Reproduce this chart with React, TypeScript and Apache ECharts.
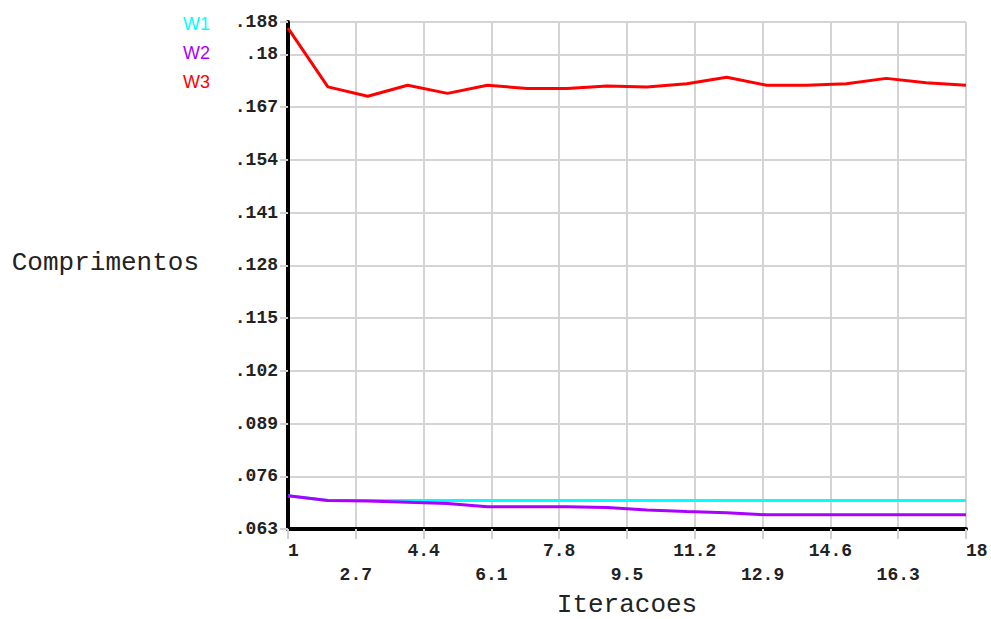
import React, { useEffect, useRef } from "react";
import * as echarts from "echarts";

const iterations = [1, 2, 3, 4, 5, 6, 7, 8, 9, 10, 11, 12, 13, 14, 15, 16, 17, 18];
const seriesNames = ["W1", "W2", "W3"];
const seriesColors = ["#00FFFF", "#AA00FF", "#FF0000"];
const w1 = [0.0712, 0.07, 0.07, 0.07, 0.07, 0.07, 0.07, 0.07, 0.07, 0.07, 0.07, 0.07, 0.07, 0.07, 0.07, 0.07, 0.07, 0.07];
const w2 = [0.0712, 0.07, 0.0699, 0.0696, 0.0693, 0.0685, 0.0685, 0.0685, 0.0683, 0.0677, 0.0673, 0.067, 0.0665, 0.0665, 0.0665, 0.0665, 0.0665, 0.0665];
const w3 = [0.1865, 0.172, 0.1697, 0.1724, 0.1704, 0.1724, 0.1716, 0.1716, 0.1722, 0.172, 0.1728, 0.1744, 0.1724, 0.1724, 0.1728, 0.1741, 0.173, 0.1724];
const yMin = 0.063;
const yMax = 0.188;
const yStep = 0.013;
const xMin = 1;
const xMax = 18;
const xStep = 1.7;

const fmtY = (v: number) => {
  const s = String(parseFloat(v.toFixed(3)));
  return s.replace(/^0\./, ".");
};
const fmtX = (v: number) => String(Math.round(v * 10) / 10);

export default function App() {
  const ref = useRef<HTMLDivElement>(null);
  useEffect(() => {
    if (!ref.current) return;
    const chart = echarts.init(ref.current, null, { renderer: "svg" });
    const all = [w1, w2, w3];
    chart.setOption({
      animation: false,
      backgroundColor: "#ffffff",
      legend: {
        orient: "vertical",
        left: 173,
        top: 10,
        icon: "none",
        itemWidth: 0,
        itemHeight: 18,
        itemGap: 11,
        selectedMode: false,
        data: seriesNames.map((n, i) => ({
          name: n,
          textStyle: { color: seriesColors[i] },
        })),
        textStyle: { fontFamily: "Liberation Sans", fontSize: 18 },
      },
      grid: {
        left: 288,
        right: 25,
        top: 22,
        bottom: 90,
        containLabel: false,
        outerBoundsMode: "none",
      },
      xAxis: {
        type: "value",
        min: xMin,
        max: xMax,
        interval: xStep,
        name: "Iteracoes",
        nameLocation: "middle",
        nameGap: 63,
        nameTextStyle: { fontFamily: "Liberation Mono", fontSize: 26, color: "#222" },
        axisLine: { show: true, onZero: false, lineStyle: { color: "#000", width: 4 } },
        axisTick: { show: true, length: 10, lineStyle: { color: "#d0d0d0", width: 2 } },
        axisLabel: {
          fontFamily: "Liberation Mono",
          fontWeight: "bold",
          fontSize: 18,
          color: "#222",
          margin: 10,
          lineHeight: 24,
          alignMinLabel: "left",
          alignMaxLabel: "left",
          formatter: (v: number, i: number) => (i % 2 ? "\n" + fmtX(v) : fmtX(v)),
        },
        splitLine: { show: true, lineStyle: { color: "#d4d4d4", width: 2 } },
      },
      yAxis: {
        type: "value",
        min: yMin,
        max: yMax,
        interval: yStep,
        name: "Comprimentos",
        nameLocation: "middle",
        nameRotate: 0,
        nameGap: 89,
        nameTextStyle: {
          fontFamily: "Liberation Mono",
          fontSize: 26,
          color: "#222",
          verticalAlign: "bottom",
        },
        axisLine: { show: true, onZero: false, lineStyle: { color: "#000", width: 4 } },
        axisTick: { show: true, length: 8, lineStyle: { color: "#d0d0d0", width: 2 } },
        axisLabel: {
          fontFamily: "Liberation Mono",
          fontWeight: "bold",
          fontSize: 18,
          color: "#222",
          margin: 10,
          padding: [0, 0, 6, 0],
          formatter: (v: number) => fmtY(v),
        },
        splitLine: { show: true, lineStyle: { color: "#d4d4d4", width: 2 } },
      },
      series: seriesNames.map((n, si) => ({
        name: n,
        type: "line",
        showSymbol: false,
        symbol: "none",
        color: seriesColors[si],
        lineStyle: { color: seriesColors[si], width: 3 },
        data: iterations.map((it, i) => [it, all[si][i]]),
      })),
    });
    return () => chart.dispose();
  }, []);
  return (
    <div
      ref={ref}
      style={{ position: "fixed", left: 0, top: 0, width: 991, height: 619, background: "#fff" }}
    />
  );
}
